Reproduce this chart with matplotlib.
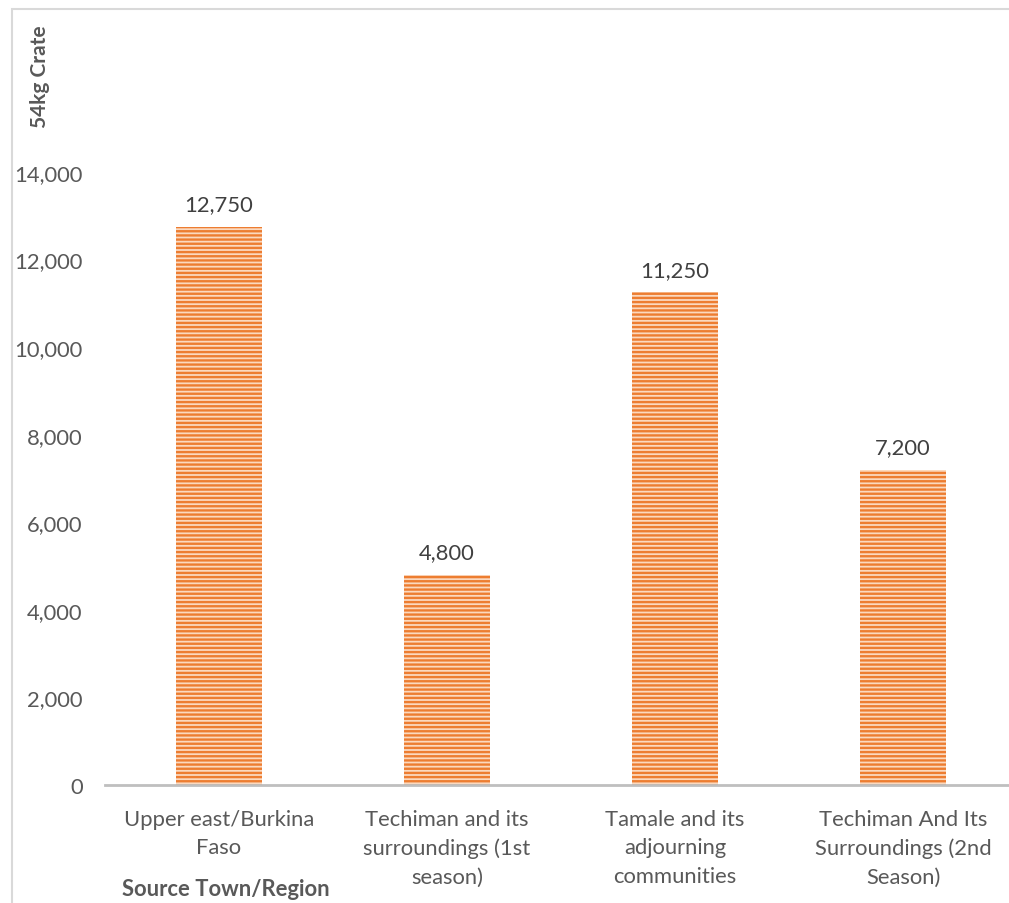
import matplotlib
matplotlib.use("Agg")
import matplotlib.pyplot as plt
from matplotlib.patches import Rectangle
from matplotlib.ticker import FuncFormatter

categories = [
    "Upper east/Burkina\nFaso",
    "Techiman and its\nsurroundings (1st\nseason)",
    "Tamale and its\nadjourning\ncommunities",
    "Techiman And Its\nSurroundings (2nd\nSeason)",
]
crates = [12750, 4800, 11250, 7200]
y_ticks = [0, 2000, 4000, 6000, 8000, 10000, 12000, 14000]

W, H = 1009, 904
plt.rcParams["font.family"] = ["Lato", "DejaVu Sans"]
plt.rcParams["hatch.linewidth"] = 1.7
text_color = "#595959"
fs = 15.8

fig = plt.figure(figsize=(W / 100, H / 100), dpi=100)

# outer chart frame
fig.patches.append(Rectangle((12 / W, -0.1), 1.2, (H - 10) / H + 0.1,
                             transform=fig.transFigure, fill=False,
                             edgecolor="#D9D9D9", linewidth=1.5))

ax = fig.add_axes([105 / W, 118 / H, 912 / W, 613 / H])
x = range(len(categories))
bars = ax.bar(x, crates, width=0.377, color="#FBD9BF", edgecolor="#ED7D31",
              linewidth=0, hatch="----")

for i, v in enumerate(crates):
    ax.annotate(f"{v:,}", (i, v), xytext=(0, 9), textcoords="offset points",
                ha="center", va="bottom", fontsize=fs, color="#404040")

ax.set_xlim(-0.5, 3.5)
ax.set_ylim(0, 14000)
ax.set_yticks(y_ticks)
ax.yaxis.set_major_formatter(FuncFormatter(lambda v, p: f"{int(v):,}"))
ax.set_xticks(list(x))
ax.set_xticklabels(categories, linespacing=1.55)
ax.tick_params(axis="both", length=0, labelsize=fs, labelcolor=text_color)
ax.tick_params(axis="x", pad=17)
ax.tick_params(axis="y", pad=16)

for s in ["top", "right", "left"]:
    ax.spines[s].set_visible(False)
ax.spines["bottom"].set_color("#BFBFBF")
ax.spines["bottom"].set_linewidth(2)

fig.text(40 / W, 1 - 77 / H, "54kg Crate", rotation=90, ha="center",
         va="center", fontsize=15, fontweight="bold", color=text_color)
fig.text(226 / W, 1 - 890 / H, "Source Town/Region", ha="center",
         va="center", fontsize=fs, fontweight="bold", color=text_color)

fig.savefig("out.png", dpi=100)
